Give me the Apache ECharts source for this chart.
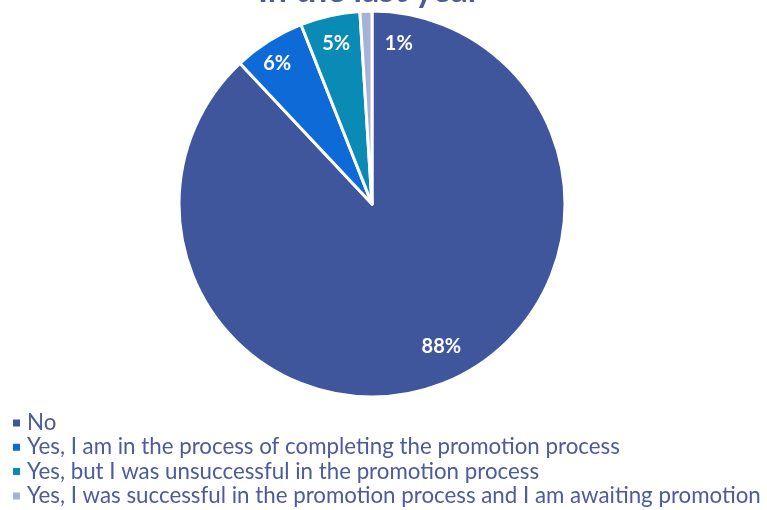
<!DOCTYPE html>
<html>
<head>
<meta charset="utf-8">
<script src="https://cdn.jsdelivr.net/npm/echarts@6/dist/echarts.min.js"></script>
<style>html,body{margin:0;padding:0;background:#fff;}#chart{width:767px;height:510px;}</style>
</head>
<body>
<div id="chart"></div>
<script>
var categories = [
  'No',
  'Yes, I am in the process of completing the promotion process',
  'Yes, but I was unsuccessful in the promotion process',
  'Yes, I was successful in the promotion process and I am awaiting promotion'
];
var values = [88, 6, 5, 1];
var colors = ['#3F569C', '#0E6AD6', '#0A8BB5', '#A6B1D6'];
var titleText = 'In the last year';

var chart = echarts.init(document.getElementById('chart'));
var mainData = categories.map(function (c, i) {
  return { name: c, value: values[i], itemStyle: { color: colors[i] } };
});
var labelOffsets = [[9, -10], [-7, -2], [0, 0], [32, 3]];
var labelData = categories.map(function (c, i) {
  return { name: c + ' ', value: values[i], label: { offset: labelOffsets[i] } };
});
chart.setOption({
  animation: false,
  title: {
    text: titleText, left: 253, top: -31,
    textStyle: { fontFamily: 'Lato', fontWeight: 'bold', fontSize: 34, color: '#4A5A9C' }
  },
  legend: {
    orient: 'vertical', left: 6, top: 407, height: 300,
    data: categories,
    icon: 'rect', itemWidth: 9, itemHeight: 9, itemGap: 2.3,
    textStyle: { fontFamily: 'Lato', fontSize: 22.3, color: '#4C5B9A', padding: [0, 0, 0, 1] }
  },
  series: [
    {
      type: 'pie', center: [372, 204], radius: [0, 193], startAngle: 90, clockwise: true,
      data: mainData,
      itemStyle: { borderColor: '#fff', borderWidth: 3 },
      label: { show: false }, labelLine: { show: false },
      emphasis: { disabled: true }, silent: true
    },
    {
      type: 'pie', center: [372, 204], radius: [127, 195], startAngle: 90, clockwise: true,
      data: labelData,
      itemStyle: { color: 'rgba(0,0,0,0)', borderWidth: 0 },
      label: {
        show: true, position: 'inside', formatter: '{c}%',
        fontFamily: 'Lato', fontWeight: 'bold', fontSize: 20, color: '#fff'
      },
      labelLine: { show: false },
      emphasis: { disabled: true }, silent: true
    }
  ]
});
</script>
</body>
</html>
